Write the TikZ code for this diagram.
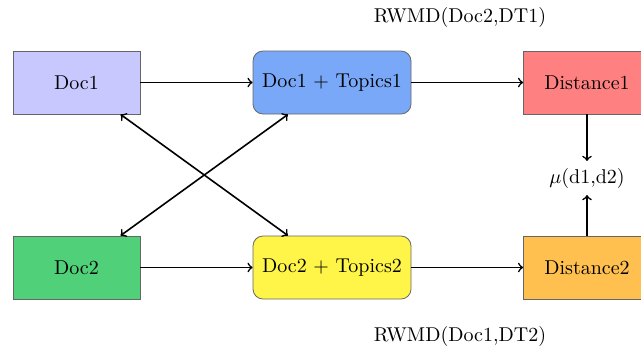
\documentclass[tikz,border=0pt]{standalone}
\usetikzlibrary{arrows}
\definecolor{cDocA}{RGB}{200,200,255}
\definecolor{cTopA}{RGB}{122,168,248}
\definecolor{cDistA}{RGB}{255,128,128}
\definecolor{cDocB}{RGB}{80,208,120}
\definecolor{cTopB}{RGB}{255,244,72}
\definecolor{cDistB}{RGB}{255,192,80}
\begin{document}
\begin{tikzpicture}[x=0.5pt,y=-0.5pt,
  box/.style={draw=black!60, minimum width=63.5pt, minimum height=31.5pt, inner sep=2pt},
  rbox/.style={box, rounded corners=5pt, minimum width=79pt},
  conn/.style={->, thick, >=to}]
\useasboundingbox (0,0) rectangle (641,350);
\node[box, fill=cDocA] (d1) at (76.5,82.5) {Doc1};
\node[rbox, fill=cTopA] (t1) at (332,82.5) {Doc1 + Topics1};
\node[box, fill=cDistA] (s1) at (587,82.5) {Distance1};
\node[box, fill=cDocB] (d2) at (76.5,267.5) {Doc2};
\node[rbox, fill=cTopB] (t2) at (332,267.5) {Doc2 + Topics2};
\node[box, fill=cDistB] (s2) at (587,267.5) {Distance2};
\node (mu) at (587,178) {$\mu$(d1,d2)};
\node (l1) at (460,17) {RWMD(Doc2,DT1)};
\node (l2) at (460,336) {RWMD(Doc1,DT2)};
\draw[conn] (d1) -- (t1);
\draw[conn] (t1) -- (s1);
\draw[conn] (d2) -- (t2);
\draw[conn] (t2) -- (s2);
\draw[conn, <->] (d1) -- (t2);
\draw[conn, <->] (d2) -- (t1);
\draw[conn] (s1) -- (mu);
\draw[conn] (s2) -- (mu);
\end{tikzpicture}
\end{document}
